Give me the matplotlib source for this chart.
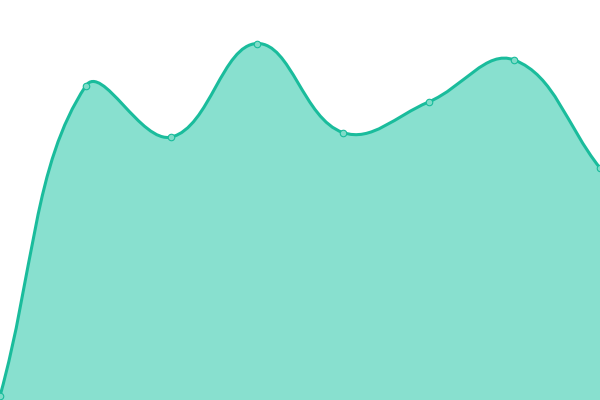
import numpy as np
import matplotlib
matplotlib.use('Agg')
import matplotlib.pyplot as plt
from matplotlib.path import Path
from matplotlib.patches import PathPatch

# значения ряда (ось y от 0 до 400)
labels = ['1', '2', '3', '4', '5', '6', '7', '8']
values = [4, 314, 263, 356.5, 267.5, 298, 340, 232]

line_color = '#1abc9c'
fill_color = '#88e0cf'
point_color = '#7fdcc8'

fig = plt.figure(figsize=(6, 4), dpi=100)
ax = fig.add_axes([0, 0, 1, 1])
ax.set_xlim(0, len(values) - 1)
ax.set_ylim(0, 400)
ax.axis('off')

# сглаживание как в chart.js (tension 0.4), считаем в пикселях
x = np.arange(len(values))
pts = ax.transData.transform(np.column_stack([x, values]))
t = 0.4
n = len(pts)
cps = []
for i in range(n):
    p = pts[i]
    p_prev = pts[i - 1] if i > 0 else p
    p_nxt = pts[i + 1] if i < n - 1 else p
    d01 = np.hypot(*(p - p_prev))
    d12 = np.hypot(*(p_nxt - p))
    s = d01 + d12
    fa = t * d01 / s if s else 0
    fb = t * d12 / s if s else 0
    cps.append((p - fa * (p_nxt - p_prev), p + fb * (p_nxt - p_prev)))

verts = [pts[0]]
codes = [Path.MOVETO]
for i in range(1, n):
    verts += [cps[i - 1][1], cps[i][0], pts[i]]
    codes += [Path.CURVE4] * 3

inv = ax.transData.inverted()
curve = inv.transform(np.array(verts))

area_verts = list(curve) + [(x[-1], 0), (x[0], 0), tuple(curve[0])]
area_codes = codes + [Path.LINETO, Path.LINETO, Path.CLOSEPOLY]
ax.add_patch(PathPatch(Path(area_verts, area_codes), facecolor=fill_color,
                       edgecolor='none', zorder=1))
ax.add_patch(PathPatch(Path(curve, codes), facecolor='none',
                       edgecolor=line_color, lw=2.2, zorder=2))
ax.scatter(x, values, s=22, color=point_color, edgecolors=line_color,
           linewidths=0.8, zorder=3, clip_on=False)

fig.savefig('out.png', dpi=100)
